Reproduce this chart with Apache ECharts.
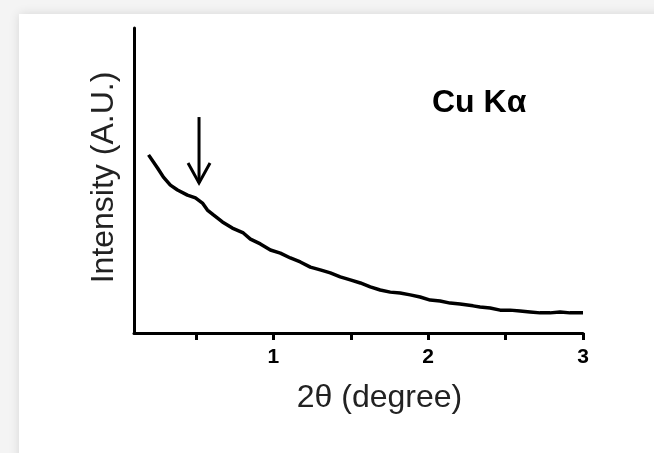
<!DOCTYPE html>
<html>
<head>
<meta charset="utf-8">
<script src="https://cdn.jsdelivr.net/npm/echarts@6/dist/echarts.min.js"></script>
<style>
html,body{margin:0;padding:0;background:#f4f4f4;}
#c{width:654px;height:453px;}
</style>
</head>
<body>
<div id="c"></div>
<script>
// 2θ (degree) values
const twoTheta = [0.194,0.252,0.290,0.335,0.381,0.445,0.497,0.542,0.574,0.613,0.671,0.735,0.806,0.852,0.916,0.981,1.045,1.110,1.174,1.239,1.303,1.368,1.432,1.497,1.562,1.626,1.690,1.755,1.819,1.884,1.948,2.013,2.077,2.142,2.206,2.290,2.335,2.400,2.465,2.529,2.594,2.658,2.723,2.787,2.852,2.916,3.0];
// Intensity (arbitrary units)
const intensity = [58.4,54.1,51.1,48.5,46.9,45.2,44.3,42.6,40.3,38.7,36.4,34.4,32.8,30.8,29.2,27.2,26.2,24.6,23.3,21.6,20.7,19.7,18.4,17.4,16.4,15.1,14.1,13.4,13.1,12.5,11.8,10.8,10.5,9.8,9.5,8.9,8.5,8.2,7.5,7.5,7.2,6.9,6.6,6.6,6.9,6.6,6.6];
const tickValues = [0.5,1,1.5,2,2.5,3];
const labelValues = [1,2,3];
const arrowTip = [0.52, 49.2];
const arrowTail = [0.52, 70.8];
const annotation = 'Cu Kα';

const FONT = '"Liberation Sans", Arial, Helvetica, sans-serif';
const chart = echarts.init(document.getElementById('c'), null, {renderer:'canvas'});
const option = {
  animation:false,
  backgroundColor:'#f4f4f4',
  grid:{left:134,right:71,top:28,bottom:120},
  xAxis:{
    type:'value', min:0.1, max:3,
    name:'2θ (degree)', nameLocation:'middle', nameGap:49,
    nameTextStyle:{fontFamily:FONT,fontSize:32,color:'#222',padding:[0,0,0,42]},
    axisLine:{show:true,onZero:false,lineStyle:{color:'#000',width:3}},
    axisTick:{show:true,length:7,customValues:tickValues,lineStyle:{color:'#000',width:3}},
    axisLabel:{show:true,customValues:labelValues,margin:14,fontFamily:FONT,fontSize:21,fontWeight:'bold',color:'#000'},
    splitLine:{show:false}
  },
  yAxis:{
    type:'value', min:0, max:100,
    name:'Intensity (A.U.)', nameLocation:'middle', nameGap:14,
    nameTextStyle:{fontFamily:FONT,fontSize:32,color:'#222',padding:[0,0,0,6]},
    axisLine:{show:true,onZero:false,lineStyle:{color:'#000',width:3}},
    axisTick:{show:false}, axisLabel:{show:false}, splitLine:{show:false}
  },
  series:[{
    type:'line', data:twoTheta.map((x,i)=>[x,intensity[i]]),
    showSymbol:false, symbol:'none',
    lineStyle:{color:'#000',width:3.5}, z:5
  }]
};
chart.setOption(option);

const tip = chart.convertToPixel({gridIndex:0}, arrowTip);
const tail = chart.convertToPixel({gridIndex:0}, arrowTail);
chart.setOption({
  graphic:[
    {type:'rect', z:-10, shape:{x:19,y:14,width:700,height:500}, style:{fill:'#fff',shadowBlur:10,shadowColor:'rgba(0,0,0,0.12)'}, silent:true},
    {type:'polyline', z:10, shape:{points:[[tail[0],tail[1]],[tip[0],tip[1]]]}, style:{stroke:'#000',lineWidth:3}},
    {type:'polyline', z:10, shape:{points:[[tip[0]-11,tip[1]-20],[tip[0],tip[1]],[tip[0]+11,tip[1]-20]]}, style:{stroke:'#000',lineWidth:3,fill:null}},
    {type:'text', z:10, left:432, top:87, style:{text:annotation, font:'bold 32px '+FONT, fill:'#000'}}
  ]
});
</script>
</body>
</html>
